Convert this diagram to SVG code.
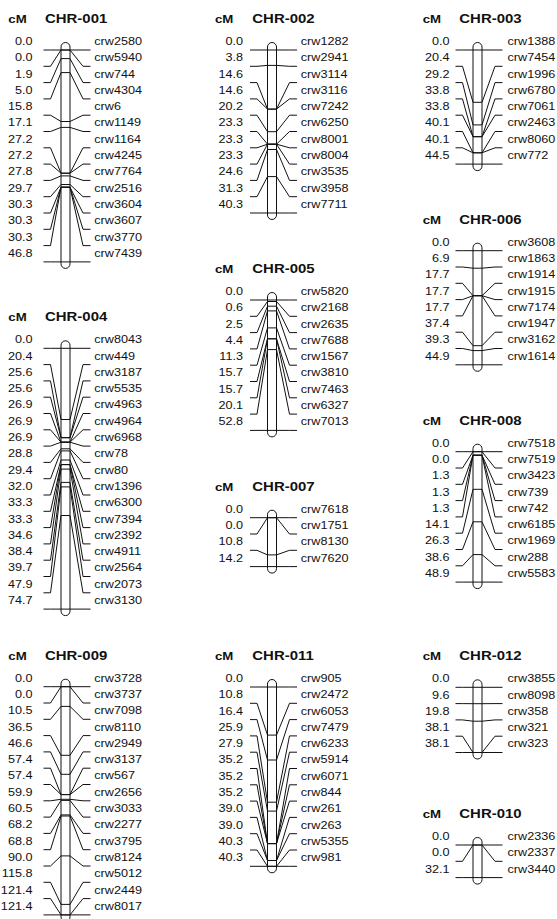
<svg xmlns="http://www.w3.org/2000/svg" width="557" height="919" viewBox="0 0 557 919">
<style>
text{font-family:"Liberation Sans",Arial,sans-serif;font-size:11px;fill:#111}
.v text{text-anchor:end}
.h{font-weight:bold;font-size:13px}
.cm{font-weight:bold;font-size:11.5px}
.bar{fill:#fff;stroke:#111;stroke-width:1}
#connectors path{fill:none;stroke:#111;stroke-width:1}
</style>
<rect width="557" height="919" fill="#fff"/>

<g id="chr001">
<text class="cm" transform="translate(8.3,23) scale(1.15,1)">cM</text>
<text class="h" transform="translate(45,23) scale(1.15,1)">CHR-001</text>
<rect class="bar" x="61" y="42.5" width="9" height="225.9" rx="4.5"/>
<g class="v" transform="translate(32.5,0) scale(1.15,1)"><text y="45">0.0</text><text y="61.3">0.0</text><text y="77.6">1.9</text><text y="93.9">5.0</text><text y="110.2">15.8</text><text y="126.5">17.1</text><text y="142.8">27.2</text><text y="159.1">27.2</text><text y="175.4">27.8</text><text y="191.7">29.7</text><text y="208">30.3</text><text y="224.3">30.3</text><text y="240.6">30.3</text><text y="256.9">46.8</text></g>
<g transform="translate(94.3,0) scale(1.15,1)"><text y="45">crw2580</text><text y="61.3">crw5940</text><text y="77.6">crw744</text><text y="93.9">crw4304</text><text y="110.2">crw6</text><text y="126.5">crw1149</text><text y="142.8">crw1164</text><text y="159.1">crw4245</text><text y="175.4">crw7764</text><text y="191.7">crw2516</text><text y="208">crw3604</text><text y="224.3">crw3607</text><text y="240.6">crw3770</text><text y="256.9">crw7439</text></g>
</g>

<g id="chr004">
<text class="cm" transform="translate(8.3,321.3) scale(1.15,1)">cM</text>
<text class="h" transform="translate(45,321.3) scale(1.15,1)">CHR-004</text>
<rect class="bar" x="61" y="340.8" width="9" height="274.8" rx="4.5"/>
<g class="v" transform="translate(32.5,0) scale(1.15,1)"><text y="343.3">0.0</text><text y="359.6">20.4</text><text y="375.9">25.6</text><text y="392.2">25.6</text><text y="408.5">26.9</text><text y="424.8">26.9</text><text y="441.1">26.9</text><text y="457.4">28.8</text><text y="473.7">29.4</text><text y="490">32.0</text><text y="506.3">33.3</text><text y="522.6">33.3</text><text y="538.9">34.6</text><text y="555.2">38.4</text><text y="571.5">39.7</text><text y="587.8">47.9</text><text y="604.1">74.7</text></g>
<g transform="translate(94.3,0) scale(1.15,1)"><text y="343.3">crw8043</text><text y="359.6">crw449</text><text y="375.9">crw3187</text><text y="392.2">crw5535</text><text y="408.5">crw4963</text><text y="424.8">crw4964</text><text y="441.1">crw6968</text><text y="457.4">crw78</text><text y="473.7">crw80</text><text y="490">crw1396</text><text y="506.3">crw6300</text><text y="522.6">crw7394</text><text y="538.9">crw2392</text><text y="555.2">crw4911</text><text y="571.5">crw2564</text><text y="587.8">crw2073</text><text y="604.1">crw3130</text></g>
</g>

<g id="chr009">
<text class="cm" transform="translate(8.3,659.7) scale(1.15,1)">cM</text>
<text class="h" transform="translate(45,659.7) scale(1.15,1)">CHR-009</text>
<rect class="bar" x="61" y="679.2" width="9" height="242.2" rx="4.5"/>
<g class="v" transform="translate(32.5,0) scale(1.15,1)"><text y="681.7">0.0</text><text y="698">0.0</text><text y="714.3">10.5</text><text y="730.6">36.5</text><text y="746.9">46.6</text><text y="763.2">57.4</text><text y="779.5">57.4</text><text y="795.8">59.9</text><text y="812.1">60.5</text><text y="828.4">68.2</text><text y="844.7">68.8</text><text y="861">90.0</text><text y="877.3">115.8</text><text y="893.6">121.4</text><text y="909.9">121.4</text></g>
<g transform="translate(94.3,0) scale(1.15,1)"><text y="681.7">crw3728</text><text y="698">crw3737</text><text y="714.3">crw7098</text><text y="730.6">crw8110</text><text y="746.9">crw2949</text><text y="763.2">crw3137</text><text y="779.5">crw567</text><text y="795.8">crw2656</text><text y="812.1">crw3033</text><text y="828.4">crw2277</text><text y="844.7">crw3795</text><text y="861">crw8124</text><text y="877.3">crw5012</text><text y="893.6">crw2449</text><text y="909.9">crw8017</text></g>
</g>

<g id="chr002">
<text class="cm" transform="translate(215,23) scale(1.15,1)">cM</text>
<text class="h" transform="translate(252.3,23) scale(1.15,1)">CHR-002</text>
<rect class="bar" x="267.5" y="42.5" width="9" height="177" rx="4.5"/>
<g class="v" transform="translate(243,0) scale(1.15,1)"><text y="45">0.0</text><text y="61.3">3.8</text><text y="77.6">14.6</text><text y="93.9">14.6</text><text y="110.2">20.2</text><text y="126.5">23.3</text><text y="142.8">23.3</text><text y="159.1">23.3</text><text y="175.4">24.6</text><text y="191.7">31.3</text><text y="208">40.3</text></g>
<g transform="translate(300.8,0) scale(1.15,1)"><text y="45">crw1282</text><text y="61.3">crw2941</text><text y="77.6">crw3114</text><text y="93.9">crw3116</text><text y="110.2">crw7242</text><text y="126.5">crw6250</text><text y="142.8">crw8001</text><text y="159.1">crw8004</text><text y="175.4">crw3535</text><text y="191.7">crw3958</text><text y="208">crw7711</text></g>
</g>

<g id="chr005">
<text class="cm" transform="translate(215,273) scale(1.15,1)">cM</text>
<text class="h" transform="translate(252.3,273) scale(1.15,1)">CHR-005</text>
<rect class="bar" x="267.5" y="292.5" width="9" height="144.4" rx="4.5"/>
<g class="v" transform="translate(243,0) scale(1.15,1)"><text y="295">0.0</text><text y="311.3">0.6</text><text y="327.6">2.5</text><text y="343.9">4.4</text><text y="360.2">11.3</text><text y="376.5">15.7</text><text y="392.8">15.7</text><text y="409.1">20.1</text><text y="425.4">52.8</text></g>
<g transform="translate(300.8,0) scale(1.15,1)"><text y="295">crw5820</text><text y="311.3">crw2168</text><text y="327.6">crw2635</text><text y="343.9">crw7688</text><text y="360.2">crw1567</text><text y="376.5">crw3810</text><text y="392.8">crw7463</text><text y="409.1">crw6327</text><text y="425.4">crw7013</text></g>
</g>

<g id="chr007">
<text class="cm" transform="translate(215,490.7) scale(1.15,1)">cM</text>
<text class="h" transform="translate(252.3,490.7) scale(1.15,1)">CHR-007</text>
<rect class="bar" x="267.5" y="510.2" width="9" height="62.9" rx="4.5"/>
<g class="v" transform="translate(243,0) scale(1.15,1)"><text y="512.7">0.0</text><text y="529">0.0</text><text y="545.3">10.8</text><text y="561.6">14.2</text></g>
<g transform="translate(300.8,0) scale(1.15,1)"><text y="512.7">crw7618</text><text y="529">crw1751</text><text y="545.3">crw8130</text><text y="561.6">crw7620</text></g>
</g>

<g id="chr011">
<text class="cm" transform="translate(215,660) scale(1.15,1)">cM</text>
<text class="h" transform="translate(252.3,660) scale(1.15,1)">CHR-011</text>
<rect class="bar" x="267.5" y="679.5" width="9" height="193.3" rx="4.5"/>
<g class="v" transform="translate(243,0) scale(1.15,1)"><text y="682">0.0</text><text y="698.3">10.8</text><text y="714.6">16.4</text><text y="730.9">25.9</text><text y="747.2">27.9</text><text y="763.5">35.2</text><text y="779.8">35.2</text><text y="796.1">35.2</text><text y="812.4">39.0</text><text y="828.7">39.0</text><text y="845">40.3</text><text y="861.3">40.3</text></g>
<g transform="translate(300.8,0) scale(1.15,1)"><text y="682">crw905</text><text y="698.3">crw2472</text><text y="714.6">crw6053</text><text y="730.9">crw7479</text><text y="747.2">crw6233</text><text y="763.5">crw5914</text><text y="779.8">crw6071</text><text y="796.1">crw844</text><text y="812.4">crw261</text><text y="828.7">crw263</text><text y="845">crw5355</text><text y="861.3">crw981</text></g>
</g>

<g id="chr003">
<text class="cm" transform="translate(422.7,23) scale(1.15,1)">cM</text>
<text class="h" transform="translate(459.3,23) scale(1.15,1)">CHR-003</text>
<rect class="bar" x="473" y="42.5" width="9" height="128.1" rx="4.5"/>
<g class="v" transform="translate(449.5,0) scale(1.15,1)"><text y="45">0.0</text><text y="61.3">20.4</text><text y="77.6">29.2</text><text y="93.9">33.8</text><text y="110.2">33.8</text><text y="126.5">40.1</text><text y="142.8">40.1</text><text y="159.1">44.5</text></g>
<g transform="translate(507.5,0) scale(1.15,1)"><text y="45">crw1388</text><text y="61.3">crw7454</text><text y="77.6">crw1996</text><text y="93.9">crw6780</text><text y="110.2">crw7061</text><text y="126.5">crw2463</text><text y="142.8">crw8060</text><text y="159.1">crw772</text></g>
</g>

<g id="chr006">
<text class="cm" transform="translate(422.7,223.7) scale(1.15,1)">cM</text>
<text class="h" transform="translate(459.3,223.7) scale(1.15,1)">CHR-006</text>
<rect class="bar" x="473" y="243.2" width="9" height="128.1" rx="4.5"/>
<g class="v" transform="translate(449.5,0) scale(1.15,1)"><text y="245.7">0.0</text><text y="262">6.9</text><text y="278.3">17.7</text><text y="294.6">17.7</text><text y="310.9">17.7</text><text y="327.2">37.4</text><text y="343.5">39.3</text><text y="359.8">44.9</text></g>
<g transform="translate(507.5,0) scale(1.15,1)"><text y="245.7">crw3608</text><text y="262">crw1863</text><text y="278.3">crw1914</text><text y="294.6">crw1915</text><text y="310.9">crw7174</text><text y="327.2">crw1947</text><text y="343.5">crw3162</text><text y="359.8">crw1614</text></g>
</g>

<g id="chr008">
<text class="cm" transform="translate(422.7,424.7) scale(1.15,1)">cM</text>
<text class="h" transform="translate(459.3,424.7) scale(1.15,1)">CHR-008</text>
<rect class="bar" x="473" y="444.2" width="9" height="144.4" rx="4.5"/>
<g class="v" transform="translate(449.5,0) scale(1.15,1)"><text y="446.7">0.0</text><text y="463">0.0</text><text y="479.3">1.3</text><text y="495.6">1.3</text><text y="511.9">1.3</text><text y="528.2">14.1</text><text y="544.5">26.3</text><text y="560.8">38.6</text><text y="577.1">48.9</text></g>
<g transform="translate(507.5,0) scale(1.15,1)"><text y="446.7">crw7518</text><text y="463">crw7519</text><text y="479.3">crw3423</text><text y="495.6">crw739</text><text y="511.9">crw742</text><text y="528.2">crw6185</text><text y="544.5">crw1969</text><text y="560.8">crw288</text><text y="577.1">crw5583</text></g>
</g>

<g id="chr012">
<text class="cm" transform="translate(422.7,660.3) scale(1.15,1)">cM</text>
<text class="h" transform="translate(459.3,660.3) scale(1.15,1)">CHR-012</text>
<rect class="bar" x="473" y="679.8" width="9" height="79.2" rx="4.5"/>
<g class="v" transform="translate(449.5,0) scale(1.15,1)"><text y="682.3">0.0</text><text y="698.6">9.6</text><text y="714.9">19.8</text><text y="731.2">38.1</text><text y="747.5">38.1</text></g>
<g transform="translate(507.5,0) scale(1.15,1)"><text y="682.3">crw3855</text><text y="698.6">crw8098</text><text y="714.9">crw358</text><text y="731.2">crw321</text><text y="747.5">crw323</text></g>
</g>

<g id="chr010">
<text class="cm" transform="translate(422.7,818) scale(1.15,1)">cM</text>
<text class="h" transform="translate(459.3,818) scale(1.15,1)">CHR-010</text>
<rect class="bar" x="473" y="837.5" width="9" height="46.6" rx="4.5"/>
<g class="v" transform="translate(449.5,0) scale(1.15,1)"><text y="840">0.0</text><text y="856.3">0.0</text><text y="872.6">32.1</text></g>
<g transform="translate(507.5,0) scale(1.15,1)"><text y="840">crw2336</text><text y="856.3">crw2337</text><text y="872.6">crw3440</text></g>
</g>

<g id="connectors">
<g id="c001">
<path d="M43.5,50H50.5L61,50H70L83,50H90.5"/>
<path d="M43.5,66.3H50.5L61,50H70L83,66.3H90.5"/>
<path d="M43.5,82.6H50.5L61,58.6H70L83,82.6H90.5"/>
<path d="M43.5,98.9H50.5L61,72.6H70L83,98.9H90.5"/>
<path d="M43.5,115.2H50.5L61,121.5H70L83,115.2H90.5"/>
<path d="M43.5,131.5H50.5L61,127.4H70L83,131.5H90.5"/>
<path d="M43.5,147.8H50.5L61,173.2H70L83,147.8H90.5"/>
<path d="M43.5,164.1H50.5L61,173.2H70L83,164.1H90.5"/>
<path d="M43.5,180.4H50.5L61,175.9H70L83,180.4H90.5"/>
<path d="M43.5,196.7H50.5L61,184.5H70L83,196.7H90.5"/>
<path d="M43.5,213H50.5L61,187.2H70L83,213H90.5"/>
<path d="M43.5,229.3H50.5L61,187.2H70L83,229.3H90.5"/>
<path d="M43.5,245.6H50.5L61,187.2H70L83,245.6H90.5"/>
<path d="M43.5,261.9H50.5L61,261.9H70L83,261.9H90.5"/>
</g>
<g id="c004">
<path d="M43.5,348.3H50.5L61,348.3H70L83,348.3H90.5"/>
<path d="M43.5,364.6H50.5L61,419.5H70L83,364.6H90.5"/>
<path d="M43.5,380.9H50.5L61,437.7H70L83,380.9H90.5"/>
<path d="M43.5,397.2H50.5L61,437.7H70L83,397.2H90.5"/>
<path d="M43.5,413.5H50.5L61,442.2H70L83,413.5H90.5"/>
<path d="M43.5,429.8H50.5L61,442.2H70L83,429.8H90.5"/>
<path d="M43.5,446.1H50.5L61,442.2H70L83,446.1H90.5"/>
<path d="M43.5,462.4H50.5L61,448.8H70L83,462.4H90.5"/>
<path d="M43.5,478.7H50.5L61,450.9H70L83,478.7H90.5"/>
<path d="M43.5,495H50.5L61,460H70L83,495H90.5"/>
<path d="M43.5,511.3H50.5L61,464.6H70L83,511.3H90.5"/>
<path d="M43.5,527.6H50.5L61,464.6H70L83,527.6H90.5"/>
<path d="M43.5,543.9H50.5L61,469.1H70L83,543.9H90.5"/>
<path d="M43.5,560.2H50.5L61,482.4H70L83,560.2H90.5"/>
<path d="M43.5,576.5H50.5L61,486.9H70L83,576.5H90.5"/>
<path d="M43.5,592.8H50.5L61,515.5H70L83,592.8H90.5"/>
<path d="M43.5,609.1H50.5L61,609.1H70L83,609.1H90.5"/>
</g>
<g id="c009">
<path d="M43.5,686.7H50.5L61,686.7H70L83,686.7H90.5"/>
<path d="M43.5,703H50.5L61,686.7H70L83,703H90.5"/>
<path d="M43.5,719.3H50.5L61,706.4H70L83,719.3H90.5"/>
<path d="M43.5,735.6H50.5L61,755.3H70L83,735.6H90.5"/>
<path d="M43.5,751.9H50.5L61,774.3H70L83,751.9H90.5"/>
<path d="M43.5,768.2H50.5L61,794.6H70L83,768.2H90.5"/>
<path d="M43.5,784.5H50.5L61,794.6H70L83,784.5H90.5"/>
<path d="M43.5,800.8H50.5L61,799.3H70L83,800.8H90.5"/>
<path d="M43.5,817.1H50.5L61,800.4H70L83,817.1H90.5"/>
<path d="M43.5,833.4H50.5L61,814.9H70L83,833.4H90.5"/>
<path d="M43.5,849.7H50.5L61,816H70L83,849.7H90.5"/>
<path d="M43.5,866H50.5L61,855.9H70L83,866H90.5"/>
<path d="M43.5,882.3H50.5L61,904.4H70L83,882.3H90.5"/>
<path d="M43.5,898.6H50.5L61,914.9H70L83,898.6H90.5"/>
<path d="M43.5,914.9H50.5L61,914.9H70L83,914.9H90.5"/>
</g>
<g id="c002">
<path d="M250,50H257L267.5,50H276.5L289.5,50H297"/>
<path d="M250,66.3H257L267.5,65.4H276.5L289.5,66.3H297"/>
<path d="M250,82.6H257L267.5,109.1H276.5L289.5,82.6H297"/>
<path d="M250,98.9H257L267.5,109.1H276.5L289.5,98.9H297"/>
<path d="M250,115.2H257L267.5,131.7H276.5L289.5,115.2H297"/>
<path d="M250,131.5H257L267.5,144.2H276.5L289.5,131.5H297"/>
<path d="M250,147.8H257L267.5,144.2H276.5L289.5,147.8H297"/>
<path d="M250,164.1H257L267.5,144.2H276.5L289.5,164.1H297"/>
<path d="M250,180.4H257L267.5,149.5H276.5L289.5,180.4H297"/>
<path d="M250,196.7H257L267.5,176.6H276.5L289.5,196.7H297"/>
<path d="M250,213H257L267.5,213H276.5L289.5,213H297"/>
</g>
<g id="c005">
<path d="M250,300H257L267.5,300H276.5L289.5,300H297"/>
<path d="M250,316.3H257L267.5,301.5H276.5L289.5,316.3H297"/>
<path d="M250,332.6H257L267.5,306.2H276.5L289.5,332.6H297"/>
<path d="M250,348.9H257L267.5,310.9H276.5L289.5,348.9H297"/>
<path d="M250,365.2H257L267.5,327.9H276.5L289.5,365.2H297"/>
<path d="M250,381.5H257L267.5,338.8H276.5L289.5,381.5H297"/>
<path d="M250,397.8H257L267.5,338.8H276.5L289.5,397.8H297"/>
<path d="M250,414.1H257L267.5,349.6H276.5L289.5,414.1H297"/>
<path d="M250,430.4H257L267.5,430.4H276.5L289.5,430.4H297"/>
</g>
<g id="c007">
<path d="M250,517.7H257L267.5,517.7H276.5L289.5,517.7H297"/>
<path d="M250,534H257L267.5,517.7H276.5L289.5,534H297"/>
<path d="M250,550.3H257L267.5,554.9H276.5L289.5,550.3H297"/>
<path d="M250,566.6H257L267.5,566.6H276.5L289.5,566.6H297"/>
</g>
<g id="c011">
<path d="M250,687H257L267.5,687H276.5L289.5,687H297"/>
<path d="M250,703.3H257L267.5,735.1H276.5L289.5,703.3H297"/>
<path d="M250,719.6H257L267.5,760H276.5L289.5,719.6H297"/>
<path d="M250,735.9H257L267.5,802.2H276.5L289.5,735.9H297"/>
<path d="M250,752.2H257L267.5,811.1H276.5L289.5,752.2H297"/>
<path d="M250,768.5H257L267.5,843.6H276.5L289.5,768.5H297"/>
<path d="M250,784.8H257L267.5,843.6H276.5L289.5,784.8H297"/>
<path d="M250,801.1H257L267.5,843.6H276.5L289.5,801.1H297"/>
<path d="M250,817.4H257L267.5,860.5H276.5L289.5,817.4H297"/>
<path d="M250,833.7H257L267.5,860.5H276.5L289.5,833.7H297"/>
<path d="M250,850H257L267.5,866.3H276.5L289.5,850H297"/>
<path d="M250,866.3H257L267.5,866.3H276.5L289.5,866.3H297"/>
</g>
<g id="c003">
<path d="M455.5,50H462.5L473,50H482L495,50H502.5"/>
<path d="M455.5,66.3H462.5L473,102.3H482L495,66.3H502.5"/>
<path d="M455.5,82.6H462.5L473,124.9H482L495,82.6H502.5"/>
<path d="M455.5,98.9H462.5L473,136.7H482L495,98.9H502.5"/>
<path d="M455.5,115.2H462.5L473,136.7H482L495,115.2H502.5"/>
<path d="M455.5,131.5H462.5L473,152.8H482L495,131.5H502.5"/>
<path d="M455.5,147.8H462.5L473,152.8H482L495,147.8H502.5"/>
<path d="M455.5,164.1H462.5L473,164.1H482L495,164.1H502.5"/>
</g>
<g id="c006">
<path d="M455.5,250.7H462.5L473,250.7H482L495,250.7H502.5"/>
<path d="M455.5,267H462.5L473,268.2H482L495,267H502.5"/>
<path d="M455.5,283.3H462.5L473,295.7H482L495,283.3H502.5"/>
<path d="M455.5,299.6H462.5L473,295.7H482L495,299.6H502.5"/>
<path d="M455.5,315.9H462.5L473,295.7H482L495,315.9H502.5"/>
<path d="M455.5,332.2H462.5L473,345.7H482L495,332.2H502.5"/>
<path d="M455.5,348.5H462.5L473,350.6H482L495,348.5H502.5"/>
<path d="M455.5,364.8H462.5L473,364.8H482L495,364.8H502.5"/>
</g>
<g id="c008">
<path d="M455.5,451.7H462.5L473,451.7H482L495,451.7H502.5"/>
<path d="M455.5,468H462.5L473,451.7H482L495,468H502.5"/>
<path d="M455.5,484.3H462.5L473,455.2H482L495,484.3H502.5"/>
<path d="M455.5,500.6H462.5L473,455.2H482L495,500.6H502.5"/>
<path d="M455.5,516.9H462.5L473,455.2H482L495,516.9H502.5"/>
<path d="M455.5,533.2H462.5L473,489.3H482L495,533.2H502.5"/>
<path d="M455.5,549.5H462.5L473,521.8H482L495,549.5H502.5"/>
<path d="M455.5,565.8H462.5L473,554.6H482L495,565.8H502.5"/>
<path d="M455.5,582.1H462.5L473,582.1H482L495,582.1H502.5"/>
</g>
<g id="c012">
<path d="M455.5,687.3H462.5L473,687.3H482L495,687.3H502.5"/>
<path d="M455.5,703.6H462.5L473,703.7H482L495,703.6H502.5"/>
<path d="M455.5,719.9H462.5L473,721.2H482L495,719.9H502.5"/>
<path d="M455.5,736.2H462.5L473,752.5H482L495,736.2H502.5"/>
<path d="M455.5,752.5H462.5L473,752.5H482L495,752.5H502.5"/>
</g>
<g id="c010">
<path d="M455.5,845H462.5L473,845H482L495,845H502.5"/>
<path d="M455.5,861.3H462.5L473,845H482L495,861.3H502.5"/>
<path d="M455.5,877.6H462.5L473,877.6H482L495,877.6H502.5"/>
</g>
</g>
</svg>
